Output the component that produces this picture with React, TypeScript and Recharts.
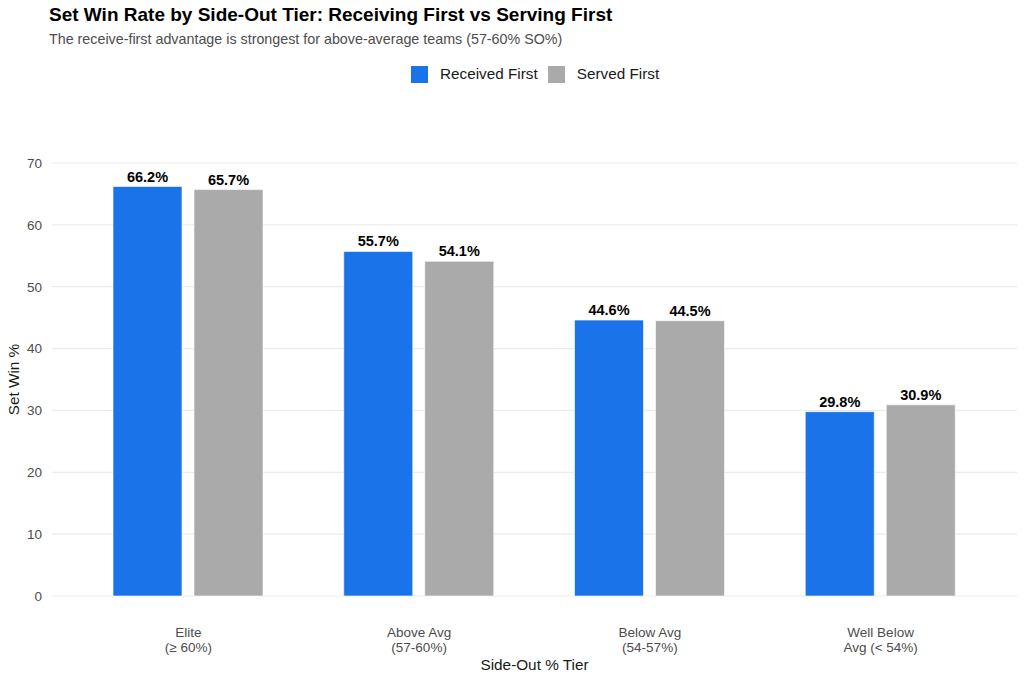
import { BarChart, Bar, XAxis, YAxis, CartesianGrid, LabelList } from 'recharts'

const tiers = ['Elite', 'Above Avg', 'Below Avg', 'Well Below Avg']
const tierRanges = ['(≥ 60%)', '(57-60%)', '(54-57%)', '(< 54%)']
const receivedFirst = [66.2, 55.7, 44.6, 29.8]
const servedFirst = [65.7, 54.1, 44.5, 30.9]
const yTicks = [0, 10, 20, 30, 40, 50, 60, 70]

const data = tiers.map((tier, i) => ({
  tier,
  range: tierRanges[i],
  received: receivedFirst[i],
  served: servedFirst[i],
}))

const FONT = '"Liberation Sans", Arial, sans-serif'
const BLUE = '#1A73E8'
const GRAY = '#AAAAAA'

// ggplot wraps "Well Below Avg (< 54%)" differently, so lines are spelled out here
const tickLines: Record<string, string[]> = {
  Elite: ['Elite', '(≥ 60%)'],
  'Above Avg': ['Above Avg', '(57-60%)'],
  'Below Avg': ['Below Avg', '(54-57%)'],
  'Well Below Avg': ['Well Below', 'Avg (< 54%)'],
}

const TierTick = (props: any) => {
  const { x, y, payload } = props
  const lines = tickLines[payload.value] ?? [payload.value]
  return (
    <g transform={`translate(${x},${y})`}>
      {lines.map((line, i) => (
        <text
          key={i}
          x={0}
          y={33 + i * 15}
          textAnchor="middle"
          fill="#4D4D4D"
          fontSize={13.5}
          fontFamily={FONT}
        >
          {line}
        </text>
      ))}
    </g>
  )
}

const legendItems = [
  { name: 'Received First', color: BLUE },
  { name: 'Served First', color: GRAY },
]

export default function App() {
  return (
    <div style={{ position: 'absolute', left: 0, top: 0, width: 1024, height: 683, background: '#fff', fontFamily: FONT }}>
      <div style={{ position: 'absolute', left: 49, top: 4, fontSize: 19, fontWeight: 'bold', color: '#000' }}>
        Set Win Rate by Side-Out Tier: Receiving First vs Serving First
      </div>
      <div style={{ position: 'absolute', left: 49, top: 31, fontSize: 14.3, color: '#4D4D4D' }}>
        The receive-first advantage is strongest for above-average teams (57-60% SO%)
      </div>
      <div
        style={{
          position: 'absolute',
          left: 411,
          top: 65,
          display: 'flex',
          gap: 10,
          fontSize: 15.3,
          color: '#1a1a1a',
        }}
      >
        {legendItems.map((item) => (
          <div key={item.name} style={{ display: 'flex', alignItems: 'center', gap: 12 }}>
            <span style={{ width: 17, height: 17, background: item.color, display: 'inline-block' }} />
            <span>{item.name}</span>
          </div>
        ))}
      </div>
      <BarChart
        width={1024}
        height={683}
        data={data}
        margin={{ top: 163, right: 7, bottom: 27, left: 0 }}
        barGap={12}
      >
        <CartesianGrid vertical={false} stroke="#EBEBEB" strokeWidth={1.2} />
        <XAxis
          dataKey="tier"
          axisLine={false}
          tickLine={false}
          height={60}
          padding={{ left: 21, right: 21 }}
          tick={<TierTick />}
          interval={0}
        />
        <YAxis
          domain={[0, 70]}
          ticks={yTicks}
          axisLine={false}
          tickLine={false}
          tickSize={0}
          tickMargin={10}
          width={52}
          tick={{ fill: '#4D4D4D', fontSize: 13.5, fontFamily: FONT }}
          label={{
            value: 'Set Win %',
            angle: -90,
            position: 'insideLeft',
            offset: 14,
            style: { textAnchor: 'middle' },
            fill: '#1a1a1a',
            fontSize: 15.3,
            fontFamily: FONT,
          }}
        />
        <text x={534.5} y={670} textAnchor="middle" fill="#1a1a1a" fontSize={15.3} fontFamily={FONT}>
          Side-Out % Tier
        </text>
        <Bar dataKey="received" name="Received First" fill={BLUE} stroke="#fff" strokeWidth={0.6} barSize={69} isAnimationActive={false}>
          <LabelList
            dataKey="received"
            position="top"
            offset={5}
            formatter={(v: any) => `${Number(v).toFixed(1)}%`}
            fill="#000"
            fontSize={14.5}
            fontWeight="bold"
            fontFamily={FONT}
          />
        </Bar>
        <Bar dataKey="served" name="Served First" fill={GRAY} stroke="#fff" strokeWidth={0.6} barSize={69} isAnimationActive={false}>
          <LabelList
            dataKey="served"
            position="top"
            offset={5}
            formatter={(v: any) => `${Number(v).toFixed(1)}%`}
            fill="#000"
            fontSize={14.5}
            fontWeight="bold"
            fontFamily={FONT}
          />
        </Bar>
      </BarChart>
    </div>
  )
}
